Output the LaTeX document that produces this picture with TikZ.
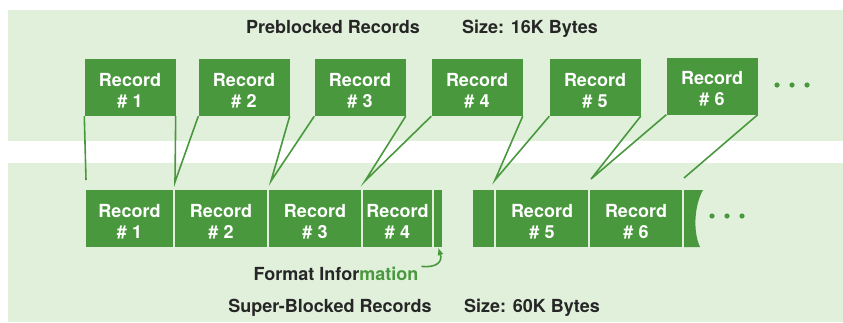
\documentclass[tikz,border=0pt]{standalone}
\usepackage{fontspec}
\setmainfont{TeX Gyre Heros}
\usetikzlibrary{arrows,arrows.meta}
\definecolor{recgreen}{RGB}{74,152,62}
\definecolor{palegreen}{RGB}{224,240,219}
\definecolor{inkdark}{RGB}{38,38,38}
\newcommand{\rec}[1]{\rule{0pt}{19bp}Record\\\# #1}
\begin{document}
\begin{tikzpicture}[x=1bp, y=-1bp, >=latex',
    recbox/.style={fill=recgreen, text=white, inner sep=0pt, minimum height=57bp,
                   align=center, font=\fontsize{18bp}{21bp}\selectfont\bfseries},
    toprec/.style={recbox, minimum width=91bp},
    label/.style={text=inkdark, inner sep=0pt, anchor=base, font=\fontsize{18bp}{21bp}\selectfont\bfseries},
    link/.style={recgreen, line width=1.6bp}]
  \useasboundingbox (0,0) rectangle (843,322);
  % backgrounds
  \fill [palegreen] (8,10) rectangle (843,141);
  \fill [palegreen] (8,163) rectangle (843,322);
  \node [label] (pretitle) at (333,33) {Preblocked Records};
  \node [label] (presize) at (530,33) {Size: 16K Bytes};
  % preblocked records
  \node [toprec] (r1) at (130,87.5) {\rec{1}};
  \node [toprec] (r2) at (244,87.5) {\rec{2}};
  \node [toprec] (r3) at (360,87.5) {\rec{3}};
  \node [toprec] (r4) at (477,87.5) {\rec{4}};
  \node [toprec] (r5) at (595,87.5) {\rec{5}};
  \node [toprec] (r6) at (712,86) {\rec{6}};
  \foreach \dx in {777,792,807} \fill [recgreen] (\dx,85) circle (2.6);
  % super-blocked records
  \node [recbox, minimum width=87bp] (b1) at (129.5,218.5) {\rec{1}};
  \node [recbox, minimum width=92bp] (b2) at (221,218.5) {\rec{2}};
  \node [recbox, minimum width=92bp] (b3) at (315,218.5) {\rec{3}};
  \node [recbox, minimum width=69bp] (b4) at (397.5,218.5) {\rec{4}};
  \node [recbox, minimum width=8bp] (f1) at (438,218.5) {};
  \node [recbox, minimum width=21bp] (f2) at (483.5,218.5) {};
  \node [recbox, minimum width=92bp] (b5) at (542,218.5) {\rec{5}};
  \node [recbox, minimum width=92bp] (b6) at (636,218.5) {\rec{6}};
  \fill [recgreen] (684,190) -- (703,190) .. controls (694,206) and (693,232) .. (700,247) -- (684,247) -- cycle;
  \foreach \dx in {712,727,742} \fill [recgreen] (\dx,216) circle (2.6);
  % links
  \coordinate (j0) at (86,180);
  \coordinate (j1) at (175,182);
  \coordinate (j2) at (271,181);
  \coordinate (j3) at (365,181);
  \coordinate (j4) at (495,180);
  \coordinate (j5) at (591,179);
  \coordinate (j6) at (684,178);
  \draw [link] (r1.south west) -- (j0);
  \draw [link] (r1.south east) -- (j1) -- (r2.south west);
  \draw [link] (r2.south east) -- (j2) -- (r3.south west);
  \draw [link] (r3.south east) -- (j3) -- (r4.south west);
  \draw [link] (r4.south east) -- (j4) -- (r5.south west);
  \draw [link] (r5.south east) -- (j5) -- (r6.south west);
  \draw [link] (r6.south east) -- (j6);
  % format information
  \node [label] (fmt) at (336,280) {Format Infor\textcolor{recgreen}{mation}};
  \draw [link, -{Latex[length=8bp,width=6bp]}] (fmt.east) ++(3,-7) .. controls (436,268) and (443,262) .. (f1.south);
  \node [label] (suptitle) at (330,312) {Super-Blocked Records};
  \node [label] (supsize) at (532,312) {Size: 60K Bytes};
\end{tikzpicture}
\end{document}
